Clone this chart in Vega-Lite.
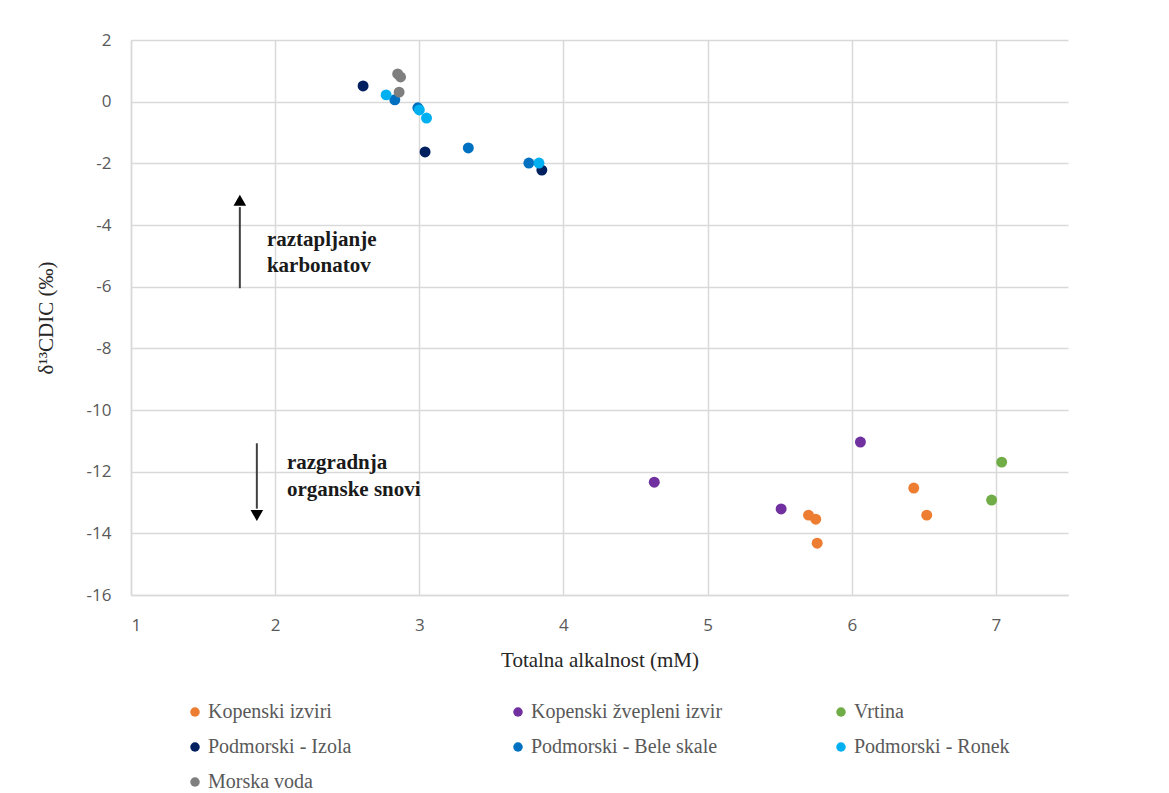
{
  "$schema": "https://vega.github.io/schema/vega-lite/v6.json",
  "width": 937,
  "height": 555,
  "autosize": {"type": "none"},
  "padding": {"left": 131, "top": 40, "right": 101, "bottom": 198},
  "background": "white",
  "config": {
    "view": {"stroke": null},
    "axis": {
      "grid": true,
      "gridColor": "#d9d9d9",
      "gridWidth": 1.5,
      "domainColor": "#d9d9d9",
      "domainWidth": 1.5,
      "ticks": false,
      "labelFont": "Open Sans",
      "labelFontSize": 17,
      "labelColor": "#595959",
      "labelExpr": "'' + datum.value",
      "titleFont": "Liberation Serif",
      "titleFontSize": 21,
      "titleFontWeight": "normal",
      "titleColor": "#262626"
    }
  },
  "datasets": {
    "pts": [
      {"alk": 5.70, "d13c": -13.41, "skupina": "Kopenski izviri"},
      {"alk": 5.75, "d13c": -13.54, "skupina": "Kopenski izviri"},
      {"alk": 5.76, "d13c": -14.32, "skupina": "Kopenski izviri"},
      {"alk": 6.43, "d13c": -12.53, "skupina": "Kopenski izviri"},
      {"alk": 6.52, "d13c": -13.41, "skupina": "Kopenski izviri"},
      {"alk": 4.63, "d13c": -12.34, "skupina": "Kopenski žvepleni izvir"},
      {"alk": 5.51, "d13c": -13.21, "skupina": "Kopenski žvepleni izvir"},
      {"alk": 6.06, "d13c": -11.04, "skupina": "Kopenski žvepleni izvir"},
      {"alk": 7.04, "d13c": -11.69, "skupina": "Vrtina"},
      {"alk": 6.97, "d13c": -12.92, "skupina": "Vrtina"},
      {"alk": 2.61, "d13c": 0.51, "skupina": "Podmorski - Izola"},
      {"alk": 3.04, "d13c": -1.63, "skupina": "Podmorski - Izola"},
      {"alk": 3.85, "d13c": -2.22, "skupina": "Podmorski - Izola"},
      {"alk": 2.83, "d13c": 0.06, "skupina": "Podmorski - Bele skale"},
      {"alk": 2.99, "d13c": -0.2, "skupina": "Podmorski - Bele skale"},
      {"alk": 3.34, "d13c": -1.5, "skupina": "Podmorski - Bele skale"},
      {"alk": 3.76, "d13c": -1.99, "skupina": "Podmorski - Bele skale"},
      {"alk": 2.77, "d13c": 0.22, "skupina": "Podmorski - Ronek"},
      {"alk": 3.0, "d13c": -0.27, "skupina": "Podmorski - Ronek"},
      {"alk": 3.05, "d13c": -0.53, "skupina": "Podmorski - Ronek"},
      {"alk": 3.83, "d13c": -1.99, "skupina": "Podmorski - Ronek"},
      {"alk": 2.85, "d13c": 0.9, "skupina": "Morska voda"},
      {"alk": 2.87, "d13c": 0.8, "skupina": "Morska voda"},
      {"alk": 2.86, "d13c": 0.31, "skupina": "Morska voda"}
    ],
    "shafts": [
      {"alk": 1.755, "d13c": -6.05, "d13c2": -3.42},
      {"alk": 1.873, "d13c": -11.08, "d13c2": -13.2}
    ],
    "heads": [
      {"alk": 1.755, "d13c": -3.2, "smer": "gor"},
      {"alk": 1.873, "d13c": -13.42, "smer": "dol"}
    ],
    "labels": [
      {"alk": 1.943, "d13c": -4.49, "besedilo": "raztapljanje"},
      {"alk": 1.943, "d13c": -5.33, "besedilo": "karbonatov"},
      {"alk": 2.082, "d13c": -11.73, "besedilo": "razgradnja"},
      {"alk": 2.082, "d13c": -12.61, "besedilo": "organske snovi"}
    ]
  },
  "layer": [
    {
      "data": {"name": "pts"},
      "mark": {"type": "circle", "size": 120, "opacity": 1},
      "encoding": {
        "x": {
          "field": "alk", "type": "quantitative",
          "scale": {"domain": [1, 7.5], "nice": false, "zero": false},
          "axis": {"values": [1, 2, 3, 4, 5, 6, 7], "labelPadding": 22, "titlePadding": 16, "title": "Totalna alkalnost (mM)"}
        },
        "y": {
          "field": "d13c", "type": "quantitative",
          "scale": {"domain": [-16, 2], "nice": false, "zero": false},
          "axis": {"values": [-16, -14, -12, -10, -8, -6, -4, -2, 0, 2], "labelPadding": 20, "titlePadding": 30, "title": "δ¹³CDIC (‰)"}
        },
        "color": {
          "field": "skupina", "type": "nominal",
          "scale": {
            "domain": ["Kopenski izviri", "Kopenski žvepleni izvir", "Vrtina", "Podmorski - Izola", "Podmorski - Bele skale", "Podmorski - Ronek", "Morska voda"],
            "range": ["#ED7D31", "#7030A0", "#70AD47", "#002060", "#0070C0", "#00B0F0", "#7F7F7F"]
          },
          "legend": {
            "title": null,
            "orient": "none",
            "legendX": 54,
            "legendY": 662,
            "direction": "horizontal",
            "columns": 3,
            "gridAlign": "all",
            "columnPadding": 108,
            "rowPadding": 15,
            "padding": 0,
            "symbolType": "circle",
            "symbolSize": 90,
            "symbolStrokeWidth": 0,
            "symbolOpacity": 1,
            "labelFont": "Liberation Serif",
            "labelFontSize": 20,
            "labelColor": "#595959",
            "labelOffset": 3,
            "labelLimit": 400
          }
        }
      }
    },
    {
      "data": {"name": "shafts"},
      "mark": {"type": "rule", "color": "#404040", "strokeWidth": 2},
      "encoding": {
        "x": {"field": "alk", "type": "quantitative"},
        "y": {"field": "d13c", "type": "quantitative"},
        "y2": {"field": "d13c2"}
      }
    },
    {
      "data": {"name": "heads"},
      "mark": {"type": "point", "filled": true, "color": "#000000", "opacity": 1, "size": 160},
      "encoding": {
        "x": {"field": "alk", "type": "quantitative"},
        "y": {"field": "d13c", "type": "quantitative"},
        "shape": {
          "field": "smer", "type": "nominal",
          "scale": {"domain": ["gor", "dol"], "range": ["triangle-up", "triangle-down"]},
          "legend": null
        }
      }
    },
    {
      "data": {"name": "labels"},
      "mark": {"type": "text", "align": "left", "baseline": "middle", "font": "Liberation Serif", "fontSize": 21, "fontWeight": "bold", "color": "#1a1a1a"},
      "encoding": {
        "x": {"field": "alk", "type": "quantitative"},
        "y": {"field": "d13c", "type": "quantitative"},
        "text": {"field": "besedilo", "type": "nominal"}
      }
    }
  ]
}
